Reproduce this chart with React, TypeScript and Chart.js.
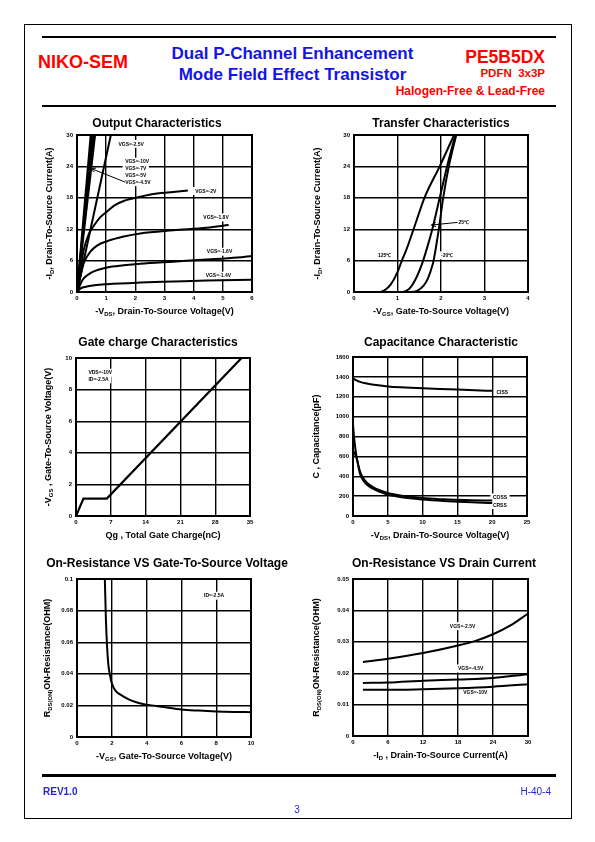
import React, { useEffect, useRef } from "react";
import { Chart, registerables } from "chart.js";

Chart.register(...registerables);

const FONT = '"Liberation Sans", Arial, Helvetica, sans-serif';
type Pt = [number, number];

// ---------------- Output Characteristics (-VDS [V], -ID [A]) ----------------
const outXTicks = [0, 1, 2, 3, 4, 5, 6];
const outYTicks = [0, 6, 12, 18, 24, 30];
const outVgs10: Pt[] = [[0, 0], [0.47, 30]];
const outVgs7: Pt[] = [[0, 0], [0.52, 30]];
const outVgs5: Pt[] = [[0, 0], [0.57, 30]];
const outVgs45: Pt[] = [[0, 0], [0.62, 30]];
const outVgs25: Pt[] = [[0, 0], [1.16, 30]];
const outVgs2: Pt[] = [[0, 0], [0.1, 3.5], [0.23, 8], [0.4, 11], [0.57, 12.6], [0.8, 14.3], [1.03, 15.4], [1.3, 16.6], [1.6, 17.4], [2.17, 18.2], [2.74, 18.8], [3.3, 19.1], [3.8, 19.4]];
const outVgs18: Pt[] = [[0, 0], [0.1, 2.5], [0.23, 5.5], [0.46, 7.7], [0.7, 8.9], [1.03, 9.7], [1.6, 10.6], [2.17, 11.2], [3.3, 11.8], [4.45, 12.3], [5.2, 12.8]];
const outVgs16: Pt[] = [[0, 0], [0.2, 2.4], [0.46, 3.6], [0.7, 4.2], [1.03, 4.7], [1.6, 5.1], [2.17, 5.4], [3.3, 5.8], [4.45, 6.2], [5.5, 6.6], [6, 6.9]];
const outVgs14: Pt[] = [[0, 0], [0.1, 0.6], [0.3, 1.0], [0.6, 1.3], [1.03, 1.5], [2.17, 1.8], [3.3, 2.0], [4.45, 2.2], [6, 2.35]];

// ---------------- Transfer Characteristics (-VGS [V], -ID [A]) ----------------
const trXTicks = [0, 1, 2, 3, 4];
const trYTicks = [0, 6, 12, 18, 24, 30];
const tr125: Pt[] = [[0.2, 0], [0.6, 0], [0.7, 0.3], [0.85, 1.5], [1.0, 3.8], [1.1, 6], [1.2, 8], [1.37, 12], [1.62, 18], [1.97, 24], [2.3, 30]];
const tr25: Pt[] = [[0.2, 0], [1.1, 0], [1.2, 0.2], [1.3, 0.9], [1.4, 2.2], [1.5, 4], [1.59, 6], [1.7, 9], [1.8, 12], [1.97, 18], [2.14, 24], [2.33, 30]];
const trM20: Pt[] = [[0.2, 0], [1.3, 0], [1.45, 0.2], [1.6, 1.2], [1.7, 2.6], [1.8, 5], [1.83, 6], [1.95, 12], [2.05, 18], [2.18, 24], [2.35, 30]];

// ---------------- Gate charge (Qg [nC], -VGS [V]) ----------------
const gcXTicks = [0, 7, 14, 21, 28, 35];
const gcYTicks = [0, 2, 4, 6, 8, 10];
const gateCharge: Pt[] = [[0, 0], [1.5, 1.1], [6.2, 1.1], [33.3, 10]];

// ---------------- Capacitance (-VDS [V], C [pF]) ----------------
const capXTicks = [0, 5, 10, 15, 20, 25];
const capYTicks = [0, 200, 400, 600, 800, 1000, 1200, 1400, 1600];
const ciss: Pt[] = [[0, 1385], [0.5, 1365], [1, 1350], [2, 1333], [3, 1320], [5, 1304], [7.5, 1294], [10, 1286], [12.5, 1279], [15, 1272], [17.5, 1265], [20, 1260]];
const coss: Pt[] = [[0, 920], [0.2, 760], [0.5, 600], [1, 450], [1.5, 380], [2, 335], [3, 285], [4, 255], [5, 232], [7, 205], [10, 180], [13, 168], [16, 160], [20, 155]];
const crss: Pt[] = [[0, 660], [0.3, 620], [0.6, 560], [1, 425], [1.5, 355], [2, 315], [3, 270], [4, 240], [5, 215], [7, 188], [10, 165], [13, 150], [16, 140], [20, 132]];

// ---------------- RDS(on) vs VGS ----------------
const rvXTicks = [0, 2, 4, 6, 8, 10];
const rvYTicks = [0, 0.02, 0.04, 0.06, 0.08, 0.1];
const rdsVsVgs: Pt[] = [[1.6, 0.1], [1.66, 0.075], [1.73, 0.057], [1.8, 0.046], [1.88, 0.04], [2.0, 0.034], [2.2, 0.0295], [2.5, 0.0268], [3.0, 0.0236], [3.5, 0.0217], [4, 0.0205], [5, 0.019], [6, 0.0174], [7, 0.0167], [8, 0.0162], [9, 0.0159], [10, 0.0157]];

// ---------------- RDS(on) vs ID ----------------
const riXTicks = [0, 6, 12, 18, 24, 30];
const riYTicks = [0, 0.01, 0.02, 0.03, 0.04, 0.05];
const rdsVgs25: Pt[] = [[1.7, 0.0236], [6, 0.0246], [12, 0.0264], [18, 0.0288], [21, 0.0303], [24, 0.0324], [27, 0.0352], [30, 0.039]];
const rdsVgs45: Pt[] = [[1.7, 0.0169], [6, 0.017], [12, 0.0176], [18, 0.018], [24, 0.0185], [30, 0.0197]];
const rdsVgs10: Pt[] = [[1.7, 0.0147], [6, 0.0147], [12, 0.0149], [18, 0.0152], [24, 0.0157], [30, 0.0165]];

// ---------------- types / specs ----------------
type Seg = { t: string; sub?: boolean };
type Label = { x: number; y: number; text: string };
type Arrow = { from: Pt; to: Pt };
type Series = { data: Pt[]; smooth?: boolean; width?: number };
type Spec = {
  area: { L: number; T: number; R: number; B: number };
  title: string;
  titleX: number;
  titleY: number;
  xTitle: Seg[];
  yTitle: Seg[];
  yTitleX: number;
  xTicks: number[];
  yTicks: number[];
  series: Series[];
  labels: Label[];
  arrows: Arrow[];
};

const ML = 58, MT = 40, MR = 45, MB = 36;

const specs: Spec[] = [
  {
    area: { L: 77, T: 135, R: 252, B: 292 },
    title: "Output Characteristics", titleX: 157, titleY: 123,
    xTitle: [{ t: "-V" }, { t: "DS", sub: true }, { t: ", Drain-To-Source Voltage(V)" }],
    yTitle: [{ t: "-I" }, { t: "D", sub: true }, { t: ", Drain-To-Source Current(A)" }],
    yTitleX: 49,
    xTicks: outXTicks, yTicks: outYTicks,
    series: [
      { data: outVgs10, width: 2 }, { data: outVgs7, width: 2 }, { data: outVgs5, width: 2 }, { data: outVgs45, width: 2 },
      { data: outVgs25, width: 2 },
      { data: outVgs2, smooth: true }, { data: outVgs18, smooth: true }, { data: outVgs16, smooth: true }, { data: outVgs14, smooth: true },
    ],
    labels: [
      { x: 1.42, y: 28.3, text: "VGS=-2.5V" },
      { x: 1.65, y: 24.9, text: "VGS=-10V" },
      { x: 1.65, y: 23.6, text: "VGS=-7V" },
      { x: 1.65, y: 22.3, text: "VGS=-5V" },
      { x: 1.65, y: 21.0, text: "VGS=-4.5V" },
      { x: 4.05, y: 19.3, text: "VGS=-2V" },
      { x: 4.33, y: 14.25, text: "VGS=-1.8V" },
      { x: 4.45, y: 7.7, text: "VGS=-1.6V" },
      { x: 4.41, y: 3.14, text: "VGS=-1.4V" },
    ],
    arrows: [{ from: [1.65, 21.0], to: [0.48, 23.6] }],
  },
  {
    area: { L: 354, T: 135, R: 528, B: 292 },
    title: "Transfer Characteristics", titleX: 441, titleY: 123,
    xTitle: [{ t: "-V" }, { t: "GS", sub: true }, { t: ", Gate-To-Source Voltage(V)" }],
    yTitle: [{ t: "-I" }, { t: "D", sub: true }, { t: ", Drain-To-Source Current(A)" }],
    yTitleX: 317,
    xTicks: trXTicks, yTicks: trYTicks,
    series: [{ data: tr125, smooth: true }, { data: tr25, smooth: true }, { data: trM20, smooth: true }],
    labels: [
      { x: 0.55, y: 7.0, text: "125\u2103" },
      { x: 2.0, y: 7.0, text: "-20\u2103" },
      { x: 2.4, y: 13.4, text: "25\u2103" },
    ],
    arrows: [{ from: [2.38, 13.3], to: [1.78, 12.8] }],
  },
  {
    area: { L: 76, T: 358, R: 250, B: 516 },
    title: "Gate charge Characteristics", titleX: 158, titleY: 342,
    xTitle: [{ t: "Qg , Total Gate Charge(nC)" }],
    yTitle: [{ t: "-V" }, { t: "GS", sub: true }, { t: " , Gate-To-Source Voltage(V)" }],
    yTitleX: 48,
    xTicks: gcXTicks, yTicks: gcYTicks,
    series: [{ data: gateCharge, width: 2.2 }],
    labels: [
      { x: 2.5, y: 9.07, text: "VDS=-10V" },
      { x: 2.5, y: 8.65, text: "ID=-2.5A" },
    ],
    arrows: [],
  },
  {
    area: { L: 353, T: 357, R: 527, B: 516 },
    title: "Capacitance Characteristic", titleX: 441, titleY: 342,
    xTitle: [{ t: "-V" }, { t: "DS", sub: true }, { t: ", Drain-To-Source Voltage(V)" }],
    yTitle: [{ t: "C , Capacitance(pF)" }],
    yTitleX: 316,
    xTicks: capXTicks, yTicks: capYTicks,
    series: [{ data: ciss, smooth: true }, { data: coss, smooth: true }, { data: crss, smooth: true }],
    labels: [
      { x: 20.6, y: 1248, text: "CISS" },
      { x: 20.1, y: 186, text: "COSS" },
      { x: 20.1, y: 110, text: "CRSS" },
    ],
    arrows: [],
  },
  {
    area: { L: 77, T: 579, R: 251, B: 737 },
    title: "On-Resistance VS Gate-To-Source Voltage", titleX: 167, titleY: 563,
    xTitle: [{ t: "-V" }, { t: "GS", sub: true }, { t: ", Gate-To-Source Voltage(V)" }],
    yTitle: [{ t: "R" }, { t: "DS(ON)", sub: true }, { t: "ON-Resistance(OHM)" }],
    yTitleX: 47,
    xTicks: rvXTicks, yTicks: rvYTicks,
    series: [{ data: rdsVsVgs, smooth: true }],
    labels: [{ x: 7.3, y: 0.0894, text: "ID=-2.5A" }],
    arrows: [],
  },
  {
    area: { L: 353, T: 579, R: 528, B: 736 },
    title: "On-Resistance VS Drain Current", titleX: 444, titleY: 563,
    xTitle: [{ t: "-I" }, { t: "D", sub: true }, { t: " , Drain-To-Source Current(A)" }],
    yTitle: [{ t: "R" }, { t: "DS(ON)", sub: true }, { t: "ON-Resistance(OHM)" }],
    yTitleX: 316,
    xTicks: riXTicks, yTicks: riYTicks,
    series: [{ data: rdsVgs25, smooth: true }, { data: rdsVgs45, smooth: true }, { data: rdsVgs10, smooth: true }],
    labels: [
      { x: 16.6, y: 0.035, text: "VGS=-2.5V" },
      { x: 18.0, y: 0.0215, text: "VGS=-4.5V" },
      { x: 18.9, y: 0.0138, text: "VGS=-10V" },
    ],
    arrows: [],
  },
];

function drawRich(ctx: CanvasRenderingContext2D, segs: Seg[], x: number, y: number, size: number) {
  const mainF = `bold ${size}px ${FONT}`;
  const subF = `bold ${size * 0.66}px ${FONT}`;
  let w = 0;
  for (const s of segs) {
    ctx.font = s.sub ? subF : mainF;
    w += ctx.measureText(s.t).width;
  }
  let cx = x - w / 2;
  for (const s of segs) {
    ctx.font = s.sub ? subF : mainF;
    ctx.fillText(s.t, cx, y + (s.sub ? size * 0.22 : 0));
    cx += ctx.measureText(s.t).width;
  }
}

function makeChart(canvas: HTMLCanvasElement, s: Spec) {
  const ox = s.area.L - ML;
  const oy = s.area.T - MT;
  const tickFont = { family: FONT, size: 6, weight: "bold" as const };

  const decor = {
    id: "decor",
    beforeDatasetsDraw(chart: any) {
      const ctx: CanvasRenderingContext2D = chart.ctx;
      const xs = chart.scales.x, ys = chart.scales.y;
      ctx.save();
      ctx.font = `bold 5px ${FONT}`;
      ctx.textBaseline = "middle";
      const boxes = s.labels.map((lb) => {
        const w = ctx.measureText(lb.text).width;
        return { lb, w, px: xs.getPixelForValue(lb.x), py: ys.getPixelForValue(lb.y) };
      });
      ctx.fillStyle = "#fff";
      for (const b of boxes) ctx.fillRect(b.px - 2.5, b.py - 4, b.w + 5, 8);
      ctx.fillStyle = "#000";
      for (const b of boxes) ctx.fillText(b.lb.text, b.px, b.py + 0.3);
      ctx.strokeStyle = "#000";
      ctx.lineWidth = 1;
      for (const a of s.arrows) {
        const x1 = xs.getPixelForValue(a.from[0]), y1 = ys.getPixelForValue(a.from[1]);
        const x2 = xs.getPixelForValue(a.to[0]), y2 = ys.getPixelForValue(a.to[1]);
        const ang = Math.atan2(y1 - y2, x1 - x2);
        ctx.beginPath();
        ctx.moveTo(x1, y1);
        ctx.lineTo(x2, y2);
        ctx.moveTo(x2 + 5 * Math.cos(ang + 0.45), y2 + 5 * Math.sin(ang + 0.45));
        ctx.lineTo(x2, y2);
        ctx.lineTo(x2 + 5 * Math.cos(ang - 0.45), y2 + 5 * Math.sin(ang - 0.45));
        ctx.stroke();
      }
      ctx.restore();
    },
    afterDatasetsDraw(chart: any) {
      const ctx: CanvasRenderingContext2D = chart.ctx;
      const a = chart.chartArea;
      ctx.save();
      ctx.strokeStyle = "#000";
      ctx.lineWidth = 2;
      ctx.strokeRect(a.left, a.top, a.right - a.left, a.bottom - a.top);
      ctx.restore();
    },
    afterDraw(chart: any) {
      const ctx: CanvasRenderingContext2D = chart.ctx;
      const a = chart.chartArea;
      ctx.save();
      ctx.fillStyle = "#000";
      ctx.textBaseline = "alphabetic";
      ctx.textAlign = "left";
      drawRich(ctx, [{ t: s.title }], s.titleX - ox, s.titleY - oy + 4.3, 12);
      drawRich(ctx, s.xTitle, (a.left + a.right) / 2, a.bottom + 22.2, 9);
      ctx.translate(s.yTitleX - ox, (a.top + a.bottom) / 2);
      ctx.rotate(-Math.PI / 2);
      drawRich(ctx, s.yTitle, 0, 3.2, 9);
      ctx.restore();
    },
  };

  const axis = (ticks: number[], isX: boolean) => ({
    type: "linear" as const,
    min: ticks[0],
    max: ticks[ticks.length - 1],
    afterBuildTicks: (sc: any) => {
      sc.ticks = ticks.map((v) => ({ value: v }));
    },
    afterFit: (sc: any) => {
      if (isX) sc.height = MB;
      else sc.width = ML;
    },
    ticks: {
      font: tickFont,
      color: "#000",
      padding: isX ? 3 : 4,
      maxRotation: 0,
      autoSkip: false,
      callback: (v: any) => String(v),
    },
    grid: { color: "#000", lineWidth: 1.4, drawTicks: false },
    border: { color: "#000", width: 2 },
    title: { display: false },
  });

  return new Chart(canvas, {
    type: "line",
    data: {
      datasets: s.series.map((se) => ({
        data: se.data.map(([x, y]) => ({ x, y })),
        borderColor: "#000",
        backgroundColor: "#000",
        borderWidth: se.width ?? 2,
        pointRadius: 0,
        fill: false,
        tension: 0,
        cubicInterpolationMode: se.smooth ? ("monotone" as const) : ("default" as const),
      })),
    },
    options: {
      responsive: false,
      animation: false,
      devicePixelRatio: 1,
      layout: { padding: { left: 0, bottom: 0, top: MT, right: MR } },
      plugins: { legend: { display: false }, tooltip: { enabled: false }, title: { display: false } },
      scales: { x: axis(s.xTicks, true), y: axis(s.yTicks, false) },
    },
    plugins: [decor],
  } as any);
}

function ChartBox({ spec }: { spec: Spec }) {
  const ref = useRef<HTMLCanvasElement>(null);
  useEffect(() => {
    const c = makeChart(ref.current!, spec);
    return () => c.destroy();
  }, [spec]);
  const left = spec.area.L - ML;
  const top = spec.area.T - MT;
  const w = spec.area.R - spec.area.L + ML + MR;
  const h = spec.area.B - spec.area.T + MT + MB;
  return (
    <canvas
      ref={ref}
      width={w}
      height={h}
      style={{ position: "absolute", left, top, width: w, height: h }}
    />
  );
}

function Txt(props: {
  x: number; base: number; size: number; color: string; bold?: boolean;
  align?: "left" | "right" | "center"; children: React.ReactNode;
}) {
  const { x, base, size, color, bold = true, align = "left", children } = props;
  const style: React.CSSProperties = {
    position: "absolute",
    top: base - 0.8465 * size,
    fontFamily: FONT,
    fontSize: size,
    lineHeight: `${size}px`,
    fontWeight: bold ? 700 : 400,
    color,
    whiteSpace: "pre",
  };
  if (align === "left") style.left = x;
  else if (align === "right") style.right = 595 - x;
  else {
    style.left = x - 200;
    style.width = 400;
    style.textAlign = "center";
  }
  return <div style={style}>{children}</div>;
}

const RED = "#ff0000";
const BLUE = "#1414e6";
const BLUE2 = "#2626d9";

export default function App() {
  return (
    <div style={{ position: "absolute", left: 0, top: 0, width: 595, height: 842, background: "#fff", overflow: "hidden" }}>
      <div style={{ position: "absolute", left: 24, top: 24, width: 546, height: 793, border: "1px solid #000" }} />
      <div style={{ position: "absolute", left: 42, top: 36, width: 514, height: 2, background: "#000" }} />
      <div style={{ position: "absolute", left: 42, top: 105, width: 514, height: 2, background: "#000" }} />
      <div style={{ position: "absolute", left: 42, top: 774, width: 514, height: 2.5, background: "#000" }} />

      <Txt x={38} base={68} size={18} color={RED}>NIKO-SEM</Txt>
      <Txt x={292.5} base={59.5} size={17} color={BLUE} align="center">Dual P-Channel Enhancement</Txt>
      <Txt x={292.5} base={80} size={17} color={BLUE} align="center">Mode Field Effect Transistor</Txt>
      <Txt x={545} base={63.5} size={17.5} color={RED} align="right">PE5B5DX</Txt>
      <Txt x={545} base={77.5} size={11.5} color={RED} align="right">{"PDFN  3x3P"}</Txt>
      <Txt x={545} base={95} size={12} color={RED} align="right">Halogen-Free &amp; Lead-Free</Txt>

      {specs.map((s, i) => (
        <ChartBox key={i} spec={s} />
      ))}

      <Txt x={43} base={795} size={10} color={BLUE2}>REV1.0</Txt>
      <Txt x={551} base={795} size={10} color={BLUE2} bold={false} align="right">H-40-4</Txt>
      <Txt x={297} base={813} size={10} color={BLUE2} bold={false} align="center">3</Txt>
    </div>
  );
}
